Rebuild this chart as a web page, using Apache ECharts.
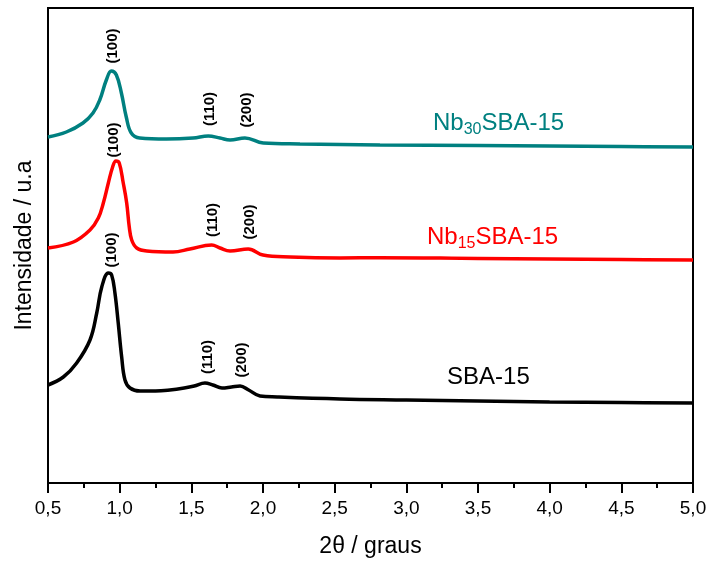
<!DOCTYPE html>
<html>
<head>
<meta charset="utf-8">
<script src="https://cdn.jsdelivr.net/npm/echarts@6/dist/echarts.min.js"></script>
<style>html,body{margin:0;padding:0;background:#fff}#c{width:710px;height:563px}</style>
</head>
<body>
<div id="c"></div>
<script>
// 2θ positions and intensities (arbitrary units)
var sbaX = [0.50,0.607,0.70,0.793,0.84,0.875,0.921,0.944,0.967,0.99,1.014,1.037,1.072,1.142,1.25,1.35,1.45,1.52,1.595,1.65,1.714,1.78,1.84,1.90,1.979,2.1,2.537,3.0,3.5,4.0,4.5,5.0];
var sbaY = [98,106,120,143,170,196,210,208,190,160,126,103,95,92,92,93,95,97,100,98,95,96,97,93,87,86,84,83,82,81,80.5,80];

var nb15X = [0.50,0.677,0.793,0.851,0.886,0.921,0.951,0.974,0.997,1.025,1.049,1.067,1.084,1.119,1.189,1.372,1.49,1.642,1.70,1.77,1.897,2.0,2.19,2.537,2.816,3.5,4.0,4.5,5.0];
var nb15Y = [235,241,253,265,280,300,316,322,320,300,280,256,243,235,232,231,234,238,235,232,234,228,226,225,225.3,224.5,224,223.5,223];

var nb30X = [0.50,0.628,0.744,0.814,0.861,0.907,0.942,0.977,1.012,1.046,1.081,1.14,1.326,1.512,1.618,1.70,1.77,1.874,2.002,2.258,2.816,3.5,4.0,4.5,5.0];
var nb30Y = [346,351,360,370,383,403,412,408,390,366,350,345,344,345,347,345,343,345,340,339,338,337.5,337,336.5,336];

// x axis ticks
var xTicks = [0.5,1.0,1.5,2.0,2.5,3.0,3.5,4.0,4.5,5.0];

// peak annotations: [2θ, intensity, text]
var peakLabels = [
  [0.954,437,'(100)'],[1.63,374,'(110)'],[1.888,373,'(200)'],
  [0.96,343,'(100)'],[1.651,263,'(110)'],[1.909,261,'(200)'],
  [0.947,233,'(100)'],[1.616,126,'(110)'],[1.853,123,'(200)']
];
// sample names: [2θ, intensity, main, sub, tail, colour]
var sampleLabels = [
  [3.186,360,'Nb','30','SBA-15','#008080'],
  [3.144,246,'Nb','15','SBA-15','#ff0000'],
  [3.284,106,'SBA-15','','','#000000']
];

function pairs(xs, ys){ return xs.map(function(x,i){ return [x, ys[i]]; }); }

var chart = echarts.init(document.getElementById('c'), null, {renderer:'canvas'});
chart.setOption({
  animation:false,
  backgroundColor:'#fff',
  grid:{left:48,right:17,top:8,bottom:80,show:true,borderColor:'#000',borderWidth:2,backgroundColor:'transparent',
        containLabel:false,outerBoundsMode:'none'},
  xAxis:{
    type:'value',min:0.5,max:5.0,interval:0.5,
    name:'2\u03b8 / graus',nameLocation:'middle',nameGap:52,
    nameTextStyle:{fontFamily:'Liberation Sans',fontSize:23,color:'#000'},
    axisLine:{show:true,lineStyle:{color:'#000',width:2}},
    axisTick:{show:true,length:10,lineStyle:{color:'#000',width:2}},
    minorTick:{show:true,splitNumber:2,length:5,lineStyle:{color:'#000',width:2}},
    splitLine:{show:false},
    axisLabel:{fontFamily:'Liberation Sans',fontSize:19,color:'#000',margin:16,
      formatter:function(v){ return xTicks.indexOf(Math.round(v*10)/10)>=0 ? v.toFixed(1).replace('.',',') : ''; }}
  },
  yAxis:{
    type:'value',min:0,max:475,
    name:'Intensidade / u.a',nameLocation:'middle',nameGap:12,nameRotate:90,
    nameTextStyle:{fontFamily:'Liberation Sans',fontSize:23,color:'#000'},
    axisLine:{show:true,lineStyle:{color:'#000',width:2}},
    axisTick:{show:false},axisLabel:{show:false},splitLine:{show:false}
  },
  series:[
    {type:'line',name:'SBA-15',data:pairs(sbaX,sbaY),showSymbol:false,smooth:0.4,
     lineStyle:{width:3.5,color:'#000'},itemStyle:{color:'#000'}},
    {type:'line',name:'Nb15SBA-15',data:pairs(nb15X,nb15Y),showSymbol:false,smooth:0.4,
     lineStyle:{width:3.5,color:'#ff0000'},itemStyle:{color:'#ff0000'}},
    {type:'line',name:'Nb30SBA-15',data:pairs(nb30X,nb30Y),showSymbol:false,smooth:0.4,
     lineStyle:{width:3.5,color:'#008080'},itemStyle:{color:'#008080'}}
  ]
});

var g = [];
peakLabels.forEach(function(p){
  var pt = chart.convertToPixel({gridIndex:0},[p[0],p[1]]);
  g.push({type:'text',x:pt[0],y:pt[1],rotation:Math.PI/2,
    style:{text:p[2],fontFamily:'Liberation Sans',fontWeight:'bold',fontSize:15,fill:'#000',align:'center',verticalAlign:'middle'}});
});
sampleLabels.forEach(function(s){
  var pt = chart.convertToPixel({gridIndex:0},[s[0],s[1]]);
  var txt = s[3] ? '{m|'+s[2]+'}{s|'+s[3]+'}{m|'+s[4]+'}' : '{m|'+s[2]+'}';
  g.push({type:'text',x:pt[0],y:pt[1],
    style:{text:txt,align:'left',verticalAlign:'middle',
      rich:{m:{fontFamily:'Liberation Sans',fontSize:24,fill:s[5],color:s[5]},
            s:{fontFamily:'Liberation Sans',fontSize:16,fill:s[5],color:s[5],padding:[14,0,0,0]}}}});
});
chart.setOption({graphic:g});
</script>
</body>
</html>
